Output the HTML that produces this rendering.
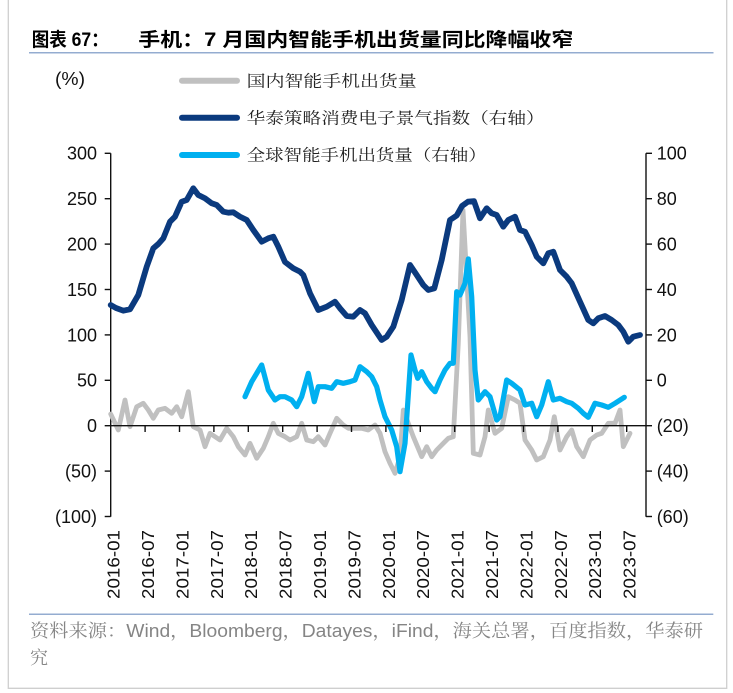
<!DOCTYPE html>
<html>
<head>
<meta charset="utf-8">
<style>
  html,body{margin:0;padding:0;background:#fff;}
  body{width:733px;height:693px;overflow:hidden;}
  svg{display:block;}
  .ax{font-family:"Liberation Sans","DejaVu Sans",sans-serif;font-size:18px;fill:#111;}
  .xl{font-family:"Liberation Sans","DejaVu Sans",sans-serif;font-size:17.5px;fill:#111;}
  .lg{font-family:"Liberation Serif","Noto Serif CJK SC",serif;font-size:16px;fill:#222;}
  .tt{font-family:"Liberation Sans","Noto Sans CJK SC",sans-serif;font-size:19px;font-weight:bold;fill:#000;}
  .src{font-family:"Liberation Sans","Noto Serif CJK SC",serif;font-size:18px;fill:#858585;}
</style>
</head>
<body>
<svg width="733" height="693" viewBox="0 0 733 693" xmlns="http://www.w3.org/2000/svg">
  <rect x="0" y="0" width="733" height="693" fill="#fff"/>
  <!-- frame -->
  <polyline points="8.3,-2 8.3,688.3 726.7,688.3 726.7,-2" fill="none" stroke="#cfcfcf" stroke-width="1.3"/>

  <!-- title -->
  <text class="tt" x="31.7" y="46" textLength="77" lengthAdjust="spacingAndGlyphs">图表 67：</text>
  <text class="tt" x="138.3" y="46" textLength="435" lengthAdjust="spacingAndGlyphs">手机：7 月国内智能手机出货量同比降幅收窄</text>
  <line x1="29" y1="52.7" x2="713.5" y2="52.7" stroke="#94acd0" stroke-width="1.5"/>

  <!-- (%) -->
  <text class="ax" x="55" y="85" textLength="30" lengthAdjust="spacingAndGlyphs">(%)</text>

  <!-- legend -->
  <line x1="182" y1="80.7" x2="237" y2="80.7" stroke="#c0c0c0" stroke-width="6" stroke-linecap="round"/>
  <text class="lg" x="246.7" y="86.3" textLength="170" lengthAdjust="spacingAndGlyphs">国内智能手机出货量</text>
  <line x1="182" y1="117.7" x2="237" y2="117.7" stroke="#0b3a7e" stroke-width="6" stroke-linecap="round"/>
  <text class="lg" x="246.7" y="123.3" textLength="298" lengthAdjust="spacingAndGlyphs">华泰策略消费电子景气指数（右轴）</text>
  <line x1="182" y1="155" x2="237" y2="155" stroke="#00b0f0" stroke-width="6" stroke-linecap="round"/>
  <text class="lg" x="246.7" y="160.6" textLength="240" lengthAdjust="spacingAndGlyphs">全球智能手机出货量（右轴）</text>

  <!-- axes -->
  <g stroke="#111" stroke-width="1.4" fill="none">
    <line x1="110.7" y1="153.3" x2="110.7" y2="516.7"/>
    <line x1="104.7" y1="153.3" x2="110.7" y2="153.3"/>
    <line x1="104.7" y1="198.7" x2="110.7" y2="198.7"/>
    <line x1="104.7" y1="244.1" x2="110.7" y2="244.1"/>
    <line x1="104.7" y1="289.5" x2="110.7" y2="289.5"/>
    <line x1="104.7" y1="334.9" x2="110.7" y2="334.9"/>
    <line x1="104.7" y1="380.3" x2="110.7" y2="380.3"/>
    <line x1="104.7" y1="425.7" x2="110.7" y2="425.7"/>
    <line x1="104.7" y1="471.1" x2="110.7" y2="471.1"/>
    <line x1="104.7" y1="516.5" x2="110.7" y2="516.5"/>
    <line x1="646" y1="153.3" x2="646" y2="516.7"/>
    <line x1="646" y1="153.3" x2="652" y2="153.3"/>
    <line x1="646" y1="198.7" x2="652" y2="198.7"/>
    <line x1="646" y1="244.1" x2="652" y2="244.1"/>
    <line x1="646" y1="289.5" x2="652" y2="289.5"/>
    <line x1="646" y1="334.9" x2="652" y2="334.9"/>
    <line x1="646" y1="380.3" x2="652" y2="380.3"/>
    <line x1="646" y1="425.7" x2="652" y2="425.7"/>
    <line x1="646" y1="471.1" x2="652" y2="471.1"/>
    <line x1="646" y1="516.5" x2="652" y2="516.5"/>
  </g>

  <!-- left labels -->
  <g class="ax" text-anchor="end">
    <text x="97" y="159.7">300</text>
    <text x="97" y="205.1">250</text>
    <text x="97" y="250.5">200</text>
    <text x="97" y="295.9">150</text>
    <text x="97" y="341.3">100</text>
    <text x="97" y="386.7">50</text>
    <text x="97" y="432.1">0</text>
    <text x="97" y="477.5">(50)</text>
    <text x="97" y="522.9">(100)</text>
  </g>
  <!-- right labels -->
  <g class="ax">
    <text x="656.7" y="159.7">100</text>
    <text x="656.7" y="205.1">80</text>
    <text x="656.7" y="250.5">60</text>
    <text x="656.7" y="295.9">40</text>
    <text x="656.7" y="341.3">20</text>
    <text x="656.7" y="386.7">0</text>
    <text x="656.7" y="432.1">(20)</text>
    <text x="656.7" y="477.5">(40)</text>
    <text x="656.7" y="522.9">(60)</text>
  </g>

  <!-- series: gray (domestic) -->
  <polyline fill="none" stroke="#c0c0c0" stroke-width="4.8" stroke-linejoin="round" stroke-linecap="round"
    points="110.7,414 118.3,430 125,400 130,426.7 136.7,406.7 143.3,403.3 148.3,410 153.3,418.3 158.3,410 165,408.3 171.7,413.3 176.7,406.7 181.7,416.7 188.3,391.7 193.3,426.7 200,430 205,446.7 210,433.3 215,436.7 220,440 226.7,428.3 233.3,436.7 238.3,446.7 245,455 250,443.3 256.7,458.3 263.3,448.3 268.3,436.7 273.3,423.3 278.3,433.3 285,436.7 290,440 296.7,436.7 301.7,423.3 306.7,440 313.3,441.7 318.3,436.7 325,445 330,433.3 336.7,418.3 343.3,425 348.3,428.3 355,428.3 361.7,428.3 368.3,430 375,425 380,433.3 385,451.7 390,463.3 395,473.3 400,456.7 403.3,410 408.3,423.3 413.3,436.7 421.7,456.7 426.7,446.7 431.7,456.7 436.7,450 443.3,443.3 448.3,438.3 453.3,436.7 458.3,343.3 463,210 470,336.7 473.3,453.3 480,455 485,436.7 488.3,410 495,433.3 501.7,428.3 508.3,396.7 515,400 520,403.3 525,440 531.7,450 536.7,460 543.3,456.7 550,440 554.3,416.7 560,450 566.7,436.7 571.7,430 576.7,446.7 583.3,456.7 590,440 596.7,435 601.7,433.3 608.3,423.3 615,423.3 620,410 623.3,446.7 630,433.3"/>

  <!-- series: dark blue (index) -->
  <polyline fill="none" stroke="#0b3a7e" stroke-width="5.8" stroke-linejoin="round" stroke-linecap="round"
    points="110.7,305 116,308 123.3,310.7 130,309.3 138.3,295 146.7,266.7 153.3,248.3 158.3,244 163.3,238.3 170,221.7 175,216.7 181.7,201.7 186.7,200 193.3,188.3 198.3,195 205,198.3 211.7,203.3 216.7,205 223.3,211.7 228.3,212.7 233.3,212.3 240,216.7 246.7,220 253.3,230 261.7,241.7 268.3,238.3 273.3,236.7 278.3,246.7 285,262 293.3,268.3 300,271.7 303.3,275 310,293.3 318.3,310 326.7,306.7 335,301.7 340,308.3 346.7,316 353.3,316.7 360,310 365,313.3 371.7,325 381.7,340 386.7,336.7 393.3,326.7 401.7,300 410,265 416.7,275 423.3,285 428.3,290 434.3,288.3 441.7,260 450,220 456.7,215.5 462,206 468,201.7 474,201.2 480,218.3 486.7,208.3 491.7,213.3 496.7,215 503.3,226.7 508.3,220 515,216.7 520,230 525,231.7 531.7,245 536.7,256.7 543.3,263.3 548.3,253.3 553.3,251.7 560,270 566.7,276.7 571.7,283.3 580,301.7 588.3,320 593.3,323.3 598.3,318.3 605,316 611.7,320 618.3,325 623.3,331.7 628.3,341.7 633.3,336.7 640,335"/>

  <!-- series: light blue (global) -->
  <polyline fill="none" stroke="#00b0f0" stroke-width="5.2" stroke-linejoin="round" stroke-linecap="round"
    points="245,396.7 251.7,381.7 261.7,365 268.3,390 275,400 280,396.7 285,396.7 291.7,400 296.7,406.7 301.7,396.7 308.3,373.3 314.3,401.7 318.3,386.7 325,386.7 331.7,388.3 336.7,381.7 343.3,383.3 350,381.7 355,380 360,366.7 366.7,371.7 371.7,376.7 376.7,386.7 380,400 385,416.7 391.7,430 396.7,446.7 400,471.7 405,443.3 411,355 415,370 417.7,378.3 421.7,371.7 426.7,381.7 431.7,388.3 435,391.7 440,380 445,370 450,363.3 453.3,363.3 456.7,291.7 460,295 465,283.3 468.3,259 471.7,296.7 475,370 478.3,400 485,391.7 490,396.7 496.7,420 500,416.7 506.7,380 511.7,383.3 520,390 525,405 531.7,403.3 536.7,416.7 541.7,405 548.3,381.7 553.3,400 560,398.3 566.7,401.7 571.7,403.3 578.3,408.3 583.3,413.3 588.3,417.3 595,403.3 601.7,405 608.3,407.3 615,403.3 624.3,397.3"/>

  <!-- zero line & x ticks -->
  <g stroke="#111" stroke-width="1.4">
    <line x1="110.7" y1="425.7" x2="646" y2="425.7"/>
    <line x1="145.1" y1="425.7" x2="145.1" y2="432"/>
    <line x1="179.5" y1="425.7" x2="179.5" y2="432"/>
    <line x1="213.9" y1="425.7" x2="213.9" y2="432"/>
    <line x1="248.3" y1="425.7" x2="248.3" y2="432"/>
    <line x1="282.7" y1="425.7" x2="282.7" y2="432"/>
    <line x1="317.1" y1="425.7" x2="317.1" y2="432"/>
    <line x1="351.5" y1="425.7" x2="351.5" y2="432"/>
    <line x1="385.9" y1="425.7" x2="385.9" y2="432"/>
    <line x1="420.3" y1="425.7" x2="420.3" y2="432"/>
    <line x1="454.7" y1="425.7" x2="454.7" y2="432"/>
    <line x1="489.1" y1="425.7" x2="489.1" y2="432"/>
    <line x1="523.5" y1="425.7" x2="523.5" y2="432"/>
    <line x1="557.9" y1="425.7" x2="557.9" y2="432"/>
    <line x1="592.3" y1="425.7" x2="592.3" y2="432"/>
    <line x1="626.7" y1="425.7" x2="626.7" y2="432"/>
  </g>

  <!-- x labels (rotated) -->
  <g class="xl">
    <text transform="translate(119.6,599) rotate(-90)" textLength="69" lengthAdjust="spacingAndGlyphs">2016-01</text>
    <text transform="translate(154,599) rotate(-90)" textLength="69" lengthAdjust="spacingAndGlyphs">2016-07</text>
    <text transform="translate(188.4,599) rotate(-90)" textLength="69" lengthAdjust="spacingAndGlyphs">2017-01</text>
    <text transform="translate(222.8,599) rotate(-90)" textLength="69" lengthAdjust="spacingAndGlyphs">2017-07</text>
    <text transform="translate(257.2,599) rotate(-90)" textLength="69" lengthAdjust="spacingAndGlyphs">2018-01</text>
    <text transform="translate(291.6,599) rotate(-90)" textLength="69" lengthAdjust="spacingAndGlyphs">2018-07</text>
    <text transform="translate(326,599) rotate(-90)" textLength="69" lengthAdjust="spacingAndGlyphs">2019-01</text>
    <text transform="translate(360.4,599) rotate(-90)" textLength="69" lengthAdjust="spacingAndGlyphs">2019-07</text>
    <text transform="translate(394.8,599) rotate(-90)" textLength="69" lengthAdjust="spacingAndGlyphs">2020-01</text>
    <text transform="translate(429.2,599) rotate(-90)" textLength="69" lengthAdjust="spacingAndGlyphs">2020-07</text>
    <text transform="translate(463.6,599) rotate(-90)" textLength="69" lengthAdjust="spacingAndGlyphs">2021-01</text>
    <text transform="translate(498,599) rotate(-90)" textLength="69" lengthAdjust="spacingAndGlyphs">2021-07</text>
    <text transform="translate(532.4,599) rotate(-90)" textLength="69" lengthAdjust="spacingAndGlyphs">2022-01</text>
    <text transform="translate(566.8,599) rotate(-90)" textLength="69" lengthAdjust="spacingAndGlyphs">2022-07</text>
    <text transform="translate(601.2,599) rotate(-90)" textLength="69" lengthAdjust="spacingAndGlyphs">2023-01</text>
    <text transform="translate(635.6,599) rotate(-90)" textLength="69" lengthAdjust="spacingAndGlyphs">2023-07</text>
  </g>

  <!-- source -->
  <line x1="29" y1="614.3" x2="713.3" y2="614.3" stroke="#94acd0" stroke-width="1.5"/>
  <text class="src" x="30" y="637" textLength="673" lengthAdjust="spacingAndGlyphs">资料来源：Wind，Bloomberg，Datayes，iFind，海关总署，百度指数，华泰研</text>
  <text class="src" x="30" y="664">究</text>
</svg>
</body>
</html>
